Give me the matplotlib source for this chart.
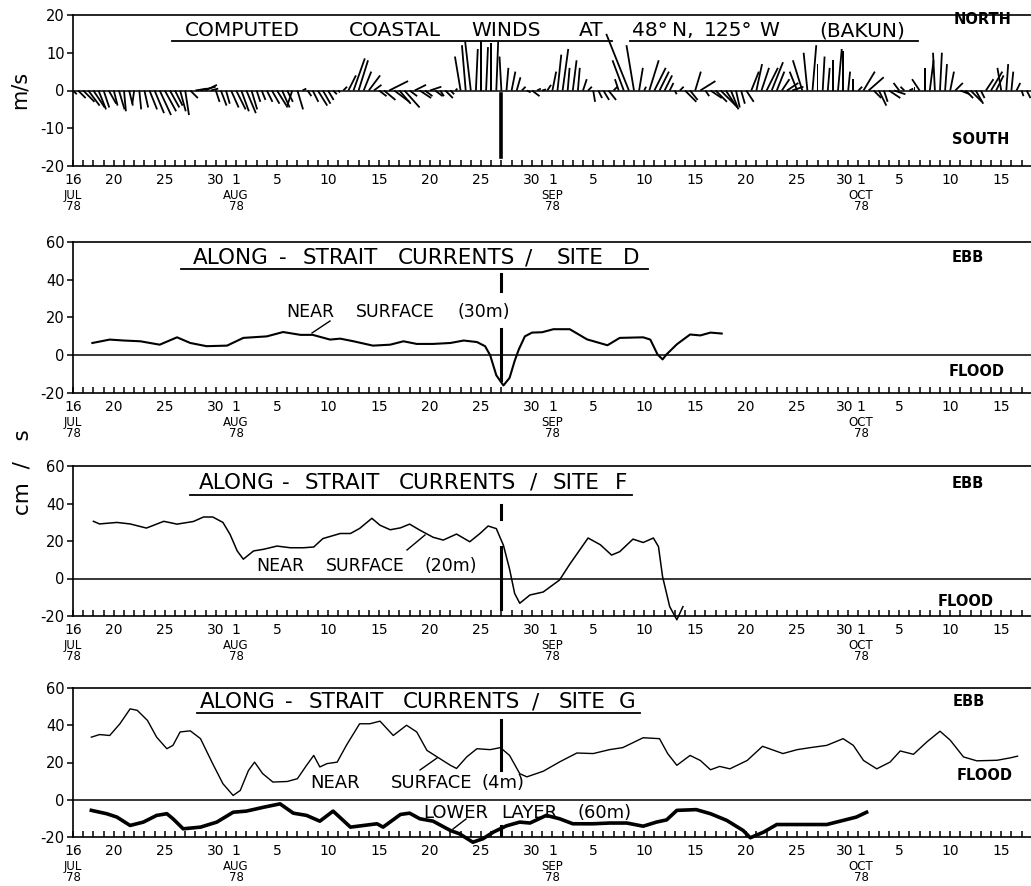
import numpy as np
import matplotlib
matplotlib.use("Agg")
import matplotlib.pyplot as plt
from matplotlib.lines import Line2D

plt.rcParams['font.family'] = ['DejaVu Sans']
plt.rcParams['axes.unicode_minus'] = False

# ---------------- data (time in days after 16 JUL 1978) ----------------
wind_dt = 0.5  # days between successive wind sticks
wind_u = [1, 2, 3, 3, 3, 2, 1.5, 2, 1, 1.5,
          0.5, 1, -0.5, 0.5, 1, 2, 2.5, 3, 3, 2.5,
          2, 1.5, 1, 2, 3, 4, 3, 2, 1, 1.5,
          1, 2, 2.5, 2, 2.5, 1.5, 1, 1, 1.5, 2,
          2.5, 2, 1.5, -1.5, 1.5, 1, 1, 1.5, 2.5, 2,
          1.5, 1, 0.5, 1, 2, 3, 2.5, 2, 3, 2,
          2, 3, 5, 4, 3, 4, 2, 3, 3, 2,
          3, 2, 1, 2, 1, 0.5, -1.5, -1, -1.5, 0.5,
          0, 0.5, 0, 0.5, -0.5, 0.5, 1, 1, 1, 1,
          2, 1, 1, 1, 1, 1, 1.5, 0.5, 1, 0.5,
          1, 1, 0.5, 1, 1.5, 2, 1, -1, -3, -6,
          -2, 1, 0.5, 2.5, 3, 2.5, 2, 1, 0.5, 1,
          3, 2, 1.5, 4, 1, 3, 3, 4, 3, 2,
          1, 1, 2, 2, 1.5, 2, 3, 3, 2, 2,
          3, 3, -2, -2.5, -1, 1, 0, 0.5, 0.5, 0,
          1, 0, 0.5, 0, 1, 3, 4, 2, 2, 1,
          3, 3, -1.5, -1, 1, 0, -2, 0, 1, -0.5,
          0.5, 0.5, 1, 2, 2.5, 2, 3, 2, 1, 2,
          3, 2, -1, 0.5, 0.5, 1, 0.5, 1]
wind_v = [-1, -2, -3, -4, -4.5, -5, -4.5, -3.5, -4, -5,
          -5.5, -4, -3.5, -5, -4.5, -5, -6, -6.5, -5.5, -4.5,
          -4, -5.5, -6.5, -2, 0.5, 1, 1.5, 0.5, -3, -4,
          -3.5, -4.5, -5, -5.5, -6, -5, -3, -2.5, -3, -3.5,
          -4, -4.5, -3, -4.5, -5, 0.5, -1.5, -3, -4, -3.5,
          -2.5, -1, -0.5, 1, 4, 8.5, 8, 5, 4, 1.5,
          -1.5, -2.5, 2.5, -3, -3.5, -4.5, -1.5, 1.5, -2, -1.5,
          1, -1.5, -1.5, -2, -1, 0.5, 9, 12, 13, 11,
          13, 11.5, 12.5, 13, 9, 6, 5, 3.5, 1, -0.5,
          -1.5, 0.5, 0.3, 1.5, 5, 9.5, 11, 6, 8, 6,
          3, 1, -3, -2, -2.5, -2.5, 1, 3, 8, 15,
          12, 6, 1, 8, 6, 5, 4, 2, -1, 1,
          -3, -2.5, 5, 2.5, -1.5, -2, -3, -4, -4.5, -5,
          -4.5, -3.5, -3, 5, 7, 6, 6, 7.5, 5, 3,
          2, 1, 5, 8, 10, 12, 7, 9, 6, 8,
          11, 10.5, 5, 3, 1, 5, 3.5, -2, -4, -3,
          -2, -1, 2, 1, 0.5, 1, 3, 6, 8, 10,
          10, 7, 5, 2, -1, -2, -3, -3.5, -2, 3,
          5, 4, 6, 7, 5, 2, -1.5, -2]

d_day = [1.9, 3.6, 5.0, 6.6, 8.5, 10.2, 11.5, 13.1, 15.1, 16.7, 19.0, 20.6, 22.3,
         23.5, 25.2, 26.2, 27.5, 29.4, 31.1, 32.4, 33.7, 35.3, 37.0, 38.3, 39.6,
         40.4, 40.9, 41.5, 42.2, 42.8, 43.3, 43.7, 44.3, 45.0, 46.0, 47.1, 48.7,
         50.4, 52.4, 53.6, 55.9, 56.6, 57.3, 57.8, 58.2, 59.2, 60.5, 61.5, 62.5, 63.6]
d_surface = [6.5, 8.3, 7.8, 7.4, 5.6, 9.5, 6.5, 4.8, 5.1, 9.2, 10.0, 12.3, 10.8,
             10.8, 8.3, 8.8, 7.4, 5.1, 5.6, 7.4, 6.0, 6.0, 6.5, 7.8, 7.0,
             4.8, 0.0, -10.6, -16.0, -12.0, -3.0, 3.0, 10.0, 12.0, 12.2, 13.8, 13.8,
             8.4, 5.3, 9.2, 9.5, 8.3, 0.5, -2.2, 0.5, 5.8, 11.0, 10.5, 12.0, 11.5]

f_day = [2.0, 2.6, 4.3, 5.6, 7.2, 8.9, 10.2, 11.8, 12.8, 13.7, 14.7, 15.4, 16.1,
         16.7, 17.7, 18.7, 20.0, 21.3, 22.6, 23.6, 24.5, 26.2, 27.2, 28.1, 29.3,
         30.1, 31.1, 32.1, 33.0, 34.0, 35.3, 36.3, 37.6, 38.9, 39.9, 40.7, 41.5,
         42.2, 42.8, 43.3, 43.8, 44.8, 46.1, 47.7, 48.7, 50.5, 51.7, 52.8, 53.6,
         54.9, 55.9, 56.9, 57.4, 57.8, 58.5, 59.2, 59.8]
f_surface = [30.5, 29.1, 29.9, 29.1, 26.9, 30.5, 29.0, 30.4, 32.8, 32.8, 29.9, 23.5, 14.7,
             10.3, 14.7, 15.6, 17.3, 16.4, 16.4, 16.8, 21.3, 24.0, 24.0, 26.7, 32.1,
             28.4, 26.0, 27.0, 29.0, 25.8, 22.0, 20.5, 23.7, 19.6, 24.0, 28.0, 26.6,
             17.7, 5.0, -8.0, -13.2, -8.8, -7.2, -0.8, 7.6, 21.6, 18.0, 12.5, 14.3,
             21.0, 19.2, 21.6, 17.0, 1.0, -15.0, -22.0, -15.0]

g_day = [1.8, 2.6, 3.6, 4.6, 5.6, 6.3, 7.3, 8.2, 9.2, 9.8, 10.5, 11.5, 12.5, 13.7,
         14.7, 15.7, 16.4, 17.2, 17.8, 18.6, 19.6, 21.0, 22.0, 22.9, 23.6, 24.2,
         24.9, 25.9, 26.8, 28.1, 29.1, 30.1, 31.4, 32.7, 33.7, 34.7, 35.7, 37.0,
         37.6, 38.6, 39.6, 40.9, 41.9, 42.8, 43.8, 44.5, 46.1, 47.7, 49.4, 51.0,
         52.6, 53.9, 55.9, 57.5, 58.3, 59.2, 60.5, 61.5, 62.5, 63.4, 64.4, 66.1,
         67.6, 69.6, 71.0, 72.3, 73.9, 75.5, 76.5, 77.5, 78.8, 80.1, 81.1, 82.4,
         83.7, 85.0, 86.0, 87.3, 88.6, 90.6, 91.9, 92.6]
g_surface = [33.6, 35.0, 34.5, 40.8, 48.8, 48.0, 42.6, 33.6, 27.4, 29.2, 36.4, 37.0, 32.8, 19.3,
             8.6, 2.3, 5.0, 15.7, 20.2, 14.0, 9.5, 9.8, 11.3, 18.5, 23.8, 17.6,
             19.4, 20.2, 29.2, 40.8, 40.8, 42.2, 34.5, 40.0, 36.4, 26.5, 23.0, 18.5,
             16.8, 23.0, 27.4, 26.9, 28.0, 23.8, 14.0, 12.3, 15.3, 20.3, 25.1, 24.8,
             26.9, 28.0, 33.3, 32.8, 24.8, 18.5, 23.8, 21.1, 16.1, 17.9, 16.6, 21.1,
             28.7, 24.8, 26.9, 28.0, 29.2, 32.8, 29.2, 21.1, 16.6, 20.2, 26.2, 24.4,
             31.0, 36.8, 32.0, 23.0, 20.9, 21.2, 22.5, 23.4]

g_deep_day = [1.8, 3.3, 4.3, 5.6, 6.9, 8.2, 9.2, 9.8, 10.8, 12.5, 14.1, 15.7, 17.0,
              18.7, 20.3, 21.6, 22.9, 24.2, 25.5, 27.2, 28.5, 29.8, 30.4, 32.1, 33.0,
              34.0, 35.3, 37.0, 37.9, 39.2, 40.2, 41.2, 42.5, 43.8, 44.8, 46.4, 47.7,
              49.0, 51.0, 52.6, 54.3, 55.9, 57.2, 58.2, 59.2, 61.1, 62.5, 64.1, 65.7,
              66.4, 67.7, 69.0, 71.3, 73.9, 75.5, 76.8, 77.8]
g_deep = [-5.7, -7.5, -9.3, -13.8, -12.0, -8.4, -7.5, -10.2, -15.6, -14.7, -12.0, -6.7, -6.1,
          -4.0, -2.2, -7.2, -8.4, -11.5, -6.1, -14.7, -13.8, -12.9, -14.7, -7.9, -7.2,
          -10.2, -11.5, -16.5, -18.3, -22.8, -20.9, -17.4, -14.0, -12.0, -12.5, -8.4, -10.2,
          -12.9, -12.9, -12.5, -12.5, -14.2, -12.0, -10.8, -5.7, -5.3, -7.5, -11.1, -16.5,
          -20.4, -17.4, -13.3, -13.3, -13.3, -11.1, -9.3, -6.7]

tick_days = [0, 4, 9, 14, 16, 20, 25, 30, 35, 40, 45, 47, 51, 56, 61, 66, 71, 76, 77, 81, 86, 91]
tick_labels = ["16", "20", "25", "30", "1", "5", "10", "15", "20", "25", "30", "1",
               "5", "10", "15", "20", "25", "30", "1", "5", "10", "15"]
month_days = [0, 16, 47, 77]
month_labels = ["JUL\n78", "AUG\n78", "SEP\n78", "OCT\n78"]
event_day = 42  # 27 AUG

# ---------------- layout ----------------
W, H, DPI = 1031, 886, 100
fig = plt.figure(figsize=(W / DPI, H / DPI), dpi=DPI)
fig.patch.set_facecolor('white')


def fx(x):
    return x / W


def fy(y):
    return 1 - y / H


L, R = 73, 1031
panels_px = [(15, 166), (242, 393), (466, 616), (688, 837)]
xmax = (R - L) / 10.2
# small horizontal nudges (points) so that the crowded "30" / "1" labels do not collide
label_nudge = {76: -2.5, 77: 2.0}

axes = []
for top, bot in panels_px:
    ax = fig.add_axes([fx(L), fy(bot), (R - L) / W, (bot - top) / H])
    ax.set_xlim(0, xmax)
    ax.spines['right'].set_visible(False)
    for s in ['top', 'bottom', 'left']:
        ax.spines[s].set_linewidth(1.2)
    ax.set_xticks(tick_days)
    ax.set_xticklabels([])
    ax.set_xticks(np.arange(0, 94), minor=True)
    ax.tick_params(axis='x', which='both', direction='in', length=4.5, width=1.1,
                   top=False, bottom=True)
    ax.tick_params(axis='y', which='both', direction='out', length=4, width=1.1,
                   labelsize=10.5, pad=2)
    for d, lab in zip(tick_days, tick_labels):
        ax.annotate(lab, xy=(d, 0), xycoords=('data', 'axes fraction'),
                    xytext=(label_nudge.get(d, 0), -5), textcoords='offset points',
                    ha='center', va='top', fontsize=10)
    for d, lab in zip(month_days, month_labels):
        ax.annotate(lab, xy=(d, 0), xycoords=('data', 'axes fraction'),
                    xytext=(label_nudge.get(d, 0), -16.5), textcoords='offset points',
                    ha='center', va='top', fontsize=8.5, linespacing=0.85)
    ax.axhline(0, color='k', lw=1.1, zorder=1)
    axes.append(ax)

# ---- panel 1: wind sticks ----
ax1 = axes[0]
ax1.set_ylim(-20, 20)
ax1.set_yticks([-20, -10, 0, 10, 20])
wind_t = np.arange(len(wind_u)) * wind_dt
ax1.quiver(wind_t, np.zeros(len(wind_u)), wind_u, wind_v, angles='uv',
           scale_units='y', scale=1, pivot='tail', units='dots', width=1.8,
           headwidth=0, headlength=0, headaxislength=0, color='k', zorder=3)
ax1.plot([event_day, event_day], [-0.8, -17.7], color='k', lw=2.6)

# ---- current panels ----
for ax in axes[1:]:
    ax.set_ylim(-20, 60)
    ax.set_yticks([-20, 0, 20, 40, 60])

axes[1].plot(d_day, d_surface, color='k', lw=1.5, clip_on=False)
axes[2].plot(f_day, f_surface, color='k', lw=1.1, clip_on=False)
axes[3].plot(g_day, g_surface, color='k', lw=1.0, clip_on=False)
axes[3].plot(g_deep_day, g_deep, color='k', lw=2.6, clip_on=False)

event_segments = [
    [(43, 34), (14, -13)],
    [(39, 32), (17, -16)],
    [(43, 16), (-14, -20)],
]
for ax, segs in zip(axes[1:], event_segments):
    for y0, y1 in segs:
        ax.plot([event_day, event_day], [y0, y1], color='k', lw=2.2)

# ---- text ----
def ftext(x, y, s, **kw):
    return fig.text(fx(x), fy(y), s, **kw)


def words(items, y, fs, **kw):
    # each word is centred where it sits in the original lettering
    return [ftext(x, y, w, ha='center', va='center', fontsize=fs, **kw) for x, w in items]


def underline(x0, x1, y):
    fig.add_artist(Line2D([fx(x0), fx(x1)], [fy(y), fy(y)],
                          transform=fig.transFigure, color='k', lw=1.3))


ftext(20, 90, "m/s", rotation=90, ha='center', va='center', fontsize=15)
ftext(22, 472, "cm  /   s", rotation=90, ha='center', va='center', fontsize=15.5)

side = dict(ha='center', va='center', fontsize=10.5, fontweight='bold')
ftext(983, 19, "NORTH", **side)
ftext(981, 140, "SOUTH", **side)
ftext(968, 258, "EBB", **side)
ftext(977, 372, "FLOOD", **side)
ftext(968, 483, "EBB", **side)
ftext(966, 601, "FLOOD", **side)
ftext(969, 702, "EBB", **side)
ftext(985, 776, "FLOOD", **side)

words([(242, "COMPUTED"), (395, "COASTAL"), (506, "WINDS"), (591, "AT")], 31, 14.5)
words([(650, "48°"), (683, "N,"), (728, "125°"), (769, "W"), (862, "(BAKUN)")], 31, 14.5)
underline(172, 612, 41)
underline(630, 918, 41)

words([(231, "ALONG"), (283, "-"), (340, "STRAIT"), (456, "CURRENTS"),
       (529, "/"), (580, "SITE"), (631, "D")], 258, 15.5)
underline(181, 648, 269)
words([(237, "ALONG"), (286, "-"), (342, "STRAIT"), (457, "CURRENTS"),
       (534, "/"), (576, "SITE"), (621, "F")], 483, 15.5)
underline(190, 632, 495)
words([(238, "ALONG"), (289, "-"), (346, "STRAIT"), (461, "CURRENTS"),
       (536, "/"), (582, "SITE"), (627, "G")], 702, 15.5)
underline(197, 640, 713)

words([(310, "NEAR"), (395, "SURFACE"), (484, "(30m)")], 312, 12.5)
words([(280, "NEAR"), (365, "SURFACE"), (451, "(20m)")], 566, 12.5)
words([(335, "NEAR"), (432, "SURFACE"), (503, "(4m)")], 783, 13)
words([(456, "LOWER"), (529, "LAYER"), (605, "(60m)")], 813, 13)

leaders = [((312, 333), (330, 321)), ((407, 550), (425, 535)),
           ((420, 770), (437, 758)), ((453, 829), (466, 819))]
for p0, p1 in leaders:
    fig.add_artist(Line2D([fx(p0[0]), fx(p1[0])], [fy(p0[1]), fy(p1[1])],
                          transform=fig.transFigure, color='k', lw=1.0))

fig.savefig("out.png", dpi=DPI, facecolor='white')
